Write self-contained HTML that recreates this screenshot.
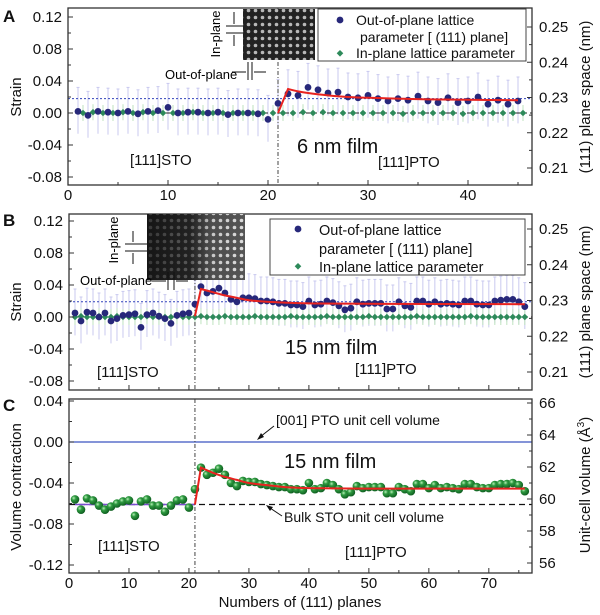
<!DOCTYPE html>
<html><head><meta charset="utf-8"><style>
html,body{margin:0;padding:0;background:#fff}
svg{display:block;font-family:"Liberation Sans",Arial,sans-serif}
</style></head><body>
<svg id="fig" width="600" height="615" viewBox="0 0 600 615" xmlns="http://www.w3.org/2000/svg">
<defs>
<pattern id="atomsA" width="7" height="7" patternUnits="userSpaceOnUse"><circle cx="3.5" cy="3.5" r="1.8" fill="#ddd"/></pattern>
<linearGradient id="fadeB" x1="0" x2="1"><stop offset="0" stop-color="#000" stop-opacity="0.75"/><stop offset="0.45" stop-color="#000" stop-opacity="0.6"/><stop offset="0.65" stop-color="#000" stop-opacity="0.1"/><stop offset="1" stop-color="#000" stop-opacity="0"/></linearGradient>
<radialGradient id="ball" cx="0.35" cy="0.35" r="0.7"><stop offset="0" stop-color="#b8f0b8"/><stop offset="0.35" stop-color="#2e9a40"/><stop offset="1" stop-color="#0d5a1e"/></radialGradient>
</defs>
<g id="layer"></g>
<!-- static annotations -->
<g font-family="Liberation Sans, Arial, sans-serif" fill="#111">
  <text x="3" y="22" font-size="17" font-weight="bold">A</text>
  <text x="3" y="226" font-size="17" font-weight="bold">B</text>
  <text x="3" y="411" font-size="17" font-weight="bold">C</text>
  <text transform="translate(21,97) rotate(-90)" font-size="15" text-anchor="middle">Strain</text>
  <text transform="translate(21,302) rotate(-90)" font-size="15" text-anchor="middle">Strain</text>
  <text transform="translate(21,487) rotate(-90)" font-size="15" text-anchor="middle">Volume contraction</text>
  <text transform="translate(590,97) rotate(-90)" font-size="15" text-anchor="middle">(111) plane space (nm)</text>
  <text transform="translate(590,302) rotate(-90)" font-size="15" text-anchor="middle">(111) plane space (nm)</text>
  <text transform="translate(590,485) rotate(-90)" font-size="15" text-anchor="middle">Unit-cell volume (Å<tspan font-size="10" dy="-6">3</tspan><tspan dy="6">)</tspan></text>
  <text x="300" y="607" font-size="15" text-anchor="middle">Numbers of (111) planes</text>
  <text x="297" y="153" font-size="20">6 nm film</text>
  <text x="130" y="165" font-size="15">[111]STO</text>
  <text x="378" y="167" font-size="15">[111]PTO</text>
  <text x="285" y="354" font-size="20">15 nm film</text>
  <text x="97" y="377" font-size="15">[111]STO</text>
  <text x="355" y="374" font-size="15">[111]PTO</text>
  <text x="276" y="425" font-size="14">[001] PTO unit cell volume</text>
  <line x1="274" y1="426" x2="260" y2="437" stroke="#111"/><path d="M257 440 L261 433 L264 437 Z" fill="#111"/>
  <text x="284" y="468" font-size="20">15 nm film</text>
  <text x="284" y="522" font-size="14">Bulk STO unit cell volume</text>
  <line x1="282" y1="516" x2="270" y2="508" stroke="#111"/><path d="M266 505 L273 507 L270 511 Z" fill="#111"/>
  <text x="98" y="551" font-size="15">[111]STO</text>
  <text x="345" y="557" font-size="15">[111]PTO</text>
</g>
<g font-family="Liberation Sans, Arial, sans-serif" fill="#111">
  <rect x="318" y="9" width="208" height="52" fill="#fff" stroke="#444"/>
  <circle cx="340" cy="20" r="3.4" fill="#27287a"/>
  <text x="356" y="25" font-size="14">Out-of-plane lattice</text>
  <text x="360" y="42" font-size="14">parameter [ (111) plane]</text>
  <path d="M340 50 L343.3 53.3 L340 56.6 L336.7 53.3 Z" fill="#2d8a5a"/>
  <text x="356" y="58" font-size="14">In-plane lattice parameter</text>
</g>
<g>
  <rect x="243" y="9" width="72" height="51" fill="#222"/>
  <rect x="243" y="9" width="72" height="51" fill="url(#atomsA)" opacity="0.8"/>
  <text x="220" y="34" font-size="13" font-family="Liberation Sans, Arial, sans-serif" text-anchor="middle" transform="rotate(-90 220 34)">In-plane</text>
  <line x1="226" y1="26" x2="243" y2="26" stroke="#111"/><line x1="226" y1="33" x2="243" y2="33" stroke="#111"/>
  <line x1="234" y1="12" x2="234" y2="24" stroke="#111"/><line x1="234" y1="35" x2="234" y2="46" stroke="#111"/>
  <text x="165" y="79" font-size="13" font-family="Liberation Sans, Arial, sans-serif">Out-of-plane</text>
  <line x1="248" y1="62" x2="248" y2="80" stroke="#111"/><line x1="252" y1="62" x2="252" y2="80" stroke="#111"/>
  <line x1="232" y1="72" x2="246" y2="72" stroke="#111"/><line x1="254" y1="72" x2="266" y2="72" stroke="#111"/>
</g>
<g font-family="Liberation Sans, Arial, sans-serif" fill="#111">
  <rect x="270" y="219" width="255" height="56" fill="#fff" stroke="#444"/>
  <circle cx="298" cy="229" r="3.4" fill="#27287a"/>
  <text x="319" y="235" font-size="14.5">Out-of-plane lattice</text>
  <text x="319" y="254" font-size="14.5">parameter [ (111) plane]</text>
  <path d="M298 263 L301.3 266.3 L298 269.6 L294.7 266.3 Z" fill="#2d8a5a"/>
  <text x="319" y="272" font-size="14.5">In-plane lattice parameter</text>
</g>
<g>
  <rect x="147" y="214" width="98" height="66" fill="#555"/>
  <rect x="147" y="214" width="98" height="66" fill="url(#atomsA)"/>
  <rect x="147" y="214" width="98" height="66" fill="url(#fadeB)"/>
  <text x="118" y="240" font-size="13" font-family="Liberation Sans, Arial, sans-serif" text-anchor="middle" transform="rotate(-90 118 240)">In-plane</text>
  <line x1="125" y1="244" x2="147" y2="244" stroke="#111"/><line x1="125" y1="251" x2="147" y2="251" stroke="#111"/>
  <line x1="133" y1="231" x2="133" y2="242" stroke="#111"/><line x1="133" y1="253" x2="133" y2="264" stroke="#111"/>
  <text x="80" y="285" font-size="13" font-family="Liberation Sans, Arial, sans-serif">Out-of-plane</text>
  <line x1="168" y1="272" x2="168" y2="290" stroke="#111"/><line x1="174" y1="272" x2="174" y2="290" stroke="#111"/>
  <line x1="152" y1="281" x2="166" y2="281" stroke="#111"/><line x1="176" y1="281" x2="188" y2="281" stroke="#111"/>
</g>
</svg>
<script>
// ---------- Panel A data ----------
const aBlueX=[1,2,3,4,5,6,7,8,9,10,11,12,13,14,15,16,17,18,19,20,21,22,23,24,25,26,27,28,29,30,31,32,33,34,35,36,37,38,39,40,41,42,43,44,45];
const aBlueY=[0.002,-0.003,0.002,0.001,0.000,0.002,-0.001,0.002,0.003,0.007,0.000,0.001,0.001,0.000,0.001,-0.002,0.000,0.000,-0.001,-0.008,0.012,0.024,0.022,0.032,0.029,0.025,0.026,0.020,0.019,0.022,0.018,0.015,0.018,0.016,0.021,0.015,0.013,0.019,0.013,0.015,0.020,0.011,0.016,0.011,0.015];
const aGreenX=[1.5,2.5,3.5,4.5,5.5,6.5,7.5,8.5,9.5,10.5,11.5,12.5,13.5,14.5,15.5,16.5,17.5,18.5,19.5,20.5,21.5,22.5,23.5,24.5,25.5,26.5,27.5,28.5,29.5,30.5,31.5,32.5,33.5,34.5,35.5,36.5,37.5,38.5,39.5,40.5,41.5,42.5,43.5,44.5,45.5];
const aGreenY=[0.000,0.001,0.000,0.000,0.001,0.000,0.001,0.000,0.000,0.000,0.000,0.001,0.000,0.000,0.000,0.000,0.000,0.000,0.000,0.000,0.000,0.000,0.001,0.000,0.001,0.000,0.000,0.000,0.000,0.000,0.000,0.000,-0.001,0.000,0.000,0.000,0.000,0.000,-0.001,0.000,0.000,0.000,0.000,0.000,0.000];
const aFitX=[21,22,23,24,26,28,30,33,36,40,45];
const aFitY=[0.000,0.030,0.027,0.025,0.022,0.020,0.019,0.018,0.017,0.0165,0.016];
const aXTicks=[0,10,20,30,40];
const aYTicks=[0.12,0.08,0.04,0.00,-0.04,-0.08];
const aYTickLabels=["0.12","0.08","0.04","0.00","-0.04","-0.08"];
const aRTicks=[0.25,0.24,0.23,0.22,0.21];
// ---------- Panel B data ----------
const bBlueX=[1,2,3,4,5,6,7,8,9,10,11,12,13,14,15,16,17,18,19,20,21,22,23,24,25,26,27,28,29,30,31,32,33,34,35,36,37,38,39,40,41,42,43,44,45,46,47,48,49,50,51,52,53,54,55,56,57,58,59,60,61,62,63,64,65,66,67,68,69,70,71,72,73,74,75,76];
const bBlueY=[0.005,-0.005,0.006,0.005,0.000,0.005,-0.005,-0.002,0.002,0.003,0.004,-0.013,0.003,0.005,0.001,-0.002,-0.008,0.002,0.004,0.005,0.016,0.038,0.030,0.032,0.036,0.030,0.022,0.019,0.024,0.024,0.023,0.020,0.020,0.019,0.017,0.017,0.015,0.015,0.013,0.020,0.015,0.016,0.020,0.018,0.014,0.009,0.011,0.019,0.016,0.017,0.017,0.017,0.010,0.010,0.019,0.014,0.012,0.020,0.020,0.016,0.019,0.016,0.017,0.016,0.015,0.020,0.020,0.016,0.015,0.015,0.020,0.021,0.022,0.022,0.019,0.013];
const bGreenY=[0.000,0.001,0.000,0.000,0.001,0.000,0.000,0.001,0.000,0.000,0.000,0.000,0.001,0.000,0.000,0.000,0.000,0.001,0.000,0.000,0.000,0.001,0.000,0.000,0.000,0.001,0.000,0.000,0.000,0.000,0.001,0.000,0.000,0.000,0.000,0.000,0.001,0.000,0.000,0.000,0.000,0.000,0.001,0.000,0.000,0.000,0.000,0.000,0.000,0.001,0.000,0.000,0.000,0.000,0.000,0.000,0.000,0.001,0.000,0.000,0.000,0.000,0.000,0.000,0.000,0.000,0.001,0.000,0.000,0.000,0.000,0.000,0.000,0.000,0.000,0.000];
const bFitX=[21,22,24,26,28,30,33,36,40,50,76];
const bFitY=[0.001,0.035,0.031,0.027,0.024,0.021,0.019,0.018,0.017,0.0165,0.016];
// ---------- Panel C data ----------
const cX=[1,2,3,4,5,6,7,8,9,10,11,12,13,14,15,16,17,18,19,20,21,22,23,24,25,26,27,28,29,30,31,32,33,34,35,36,37,38,39,40,41,42,43,44,45,46,47,48,49,50,51,52,53,54,55,56,57,58,59,60,61,62,63,64,65,66,67,68,69,70,71,72,73,74,75,76];
const cY=[-0.056,-0.066,-0.055,-0.057,-0.062,-0.066,-0.063,-0.060,-0.058,-0.057,-0.072,-0.058,-0.056,-0.062,-0.062,-0.068,-0.062,-0.057,-0.056,-0.064,-0.046,-0.025,-0.032,-0.030,-0.026,-0.032,-0.040,-0.043,-0.038,-0.039,-0.039,-0.041,-0.042,-0.043,-0.044,-0.044,-0.046,-0.046,-0.047,-0.040,-0.046,-0.045,-0.040,-0.042,-0.046,-0.051,-0.049,-0.043,-0.045,-0.044,-0.044,-0.044,-0.050,-0.050,-0.044,-0.046,-0.048,-0.041,-0.041,-0.045,-0.042,-0.045,-0.044,-0.045,-0.046,-0.041,-0.041,-0.044,-0.045,-0.045,-0.042,-0.041,-0.041,-0.040,-0.042,-0.048];
const cFitX=[21,22,24,26,28,30,33,36,40,50,60,76];
const cFitY=[-0.061,-0.025,-0.030,-0.034,-0.037,-0.040,-0.042,-0.044,-0.045,-0.0455,-0.0455,-0.0455];
const cXTicks=[0,10,20,30,40,50,60,70];
const cYTicks=[0.04,0.00,-0.04,-0.08,-0.12];
const cYTickLabels=["0.04","0.00","-0.04","-0.08","-0.12"];
const cRTicks=[66,64,62,60,58,56];
const bulkSTO=-0.061;

const NS="http://www.w3.org/2000/svg";
const L=document.getElementById('layer');
function mk(tag,attrs,parent,text){const e=document.createElementNS(NS,tag);for(const k in attrs)e.setAttribute(k,attrs[k]);if(text!==undefined)e.textContent=text;(parent||L).appendChild(e);return e;}
function lin(d0,d1,r0,r1){return v=>r0+(v-d0)*(r1-r0)/(d1-d0);}
function smoothPath(xs,ys,sx,sy){
  let d='M'+sx(xs[0])+' '+sy(ys[0])+' L'+sx(xs[1])+' '+sy(ys[1]);
  for(let i=1;i<xs.length-1;i++){
    const x0=sx(xs[i]),y0=sy(ys[i]),x1=sx(xs[i+1]),y1=sy(ys[i+1]);
    const xp=sx(xs[Math.max(i-1,1)]),yp=sy(ys[Math.max(i-1,1)]);
    const xn=sx(xs[Math.min(i+2,xs.length-1)]),yn=sy(ys[Math.min(i+2,xs.length-1)]);
    const c1x=x0+(x1-xp)/6,c1y=y0+(y1-yp)/6,c2x=x1-(xn-x0)/6,c2y=y1-(yn-y0)/6;
    d+=` C${c1x.toFixed(1)} ${c1y.toFixed(1)} ${c2x.toFixed(1)} ${c2y.toFixed(1)} ${x1.toFixed(1)} ${y1.toFixed(1)}`;
  }
  return d;
}
function frame(g,x0,x1,y0,y1,name){const r=mk('rect',{x:x0,y:y0,width:x1-x0,height:y1-y0,fill:'none',stroke:'#333','stroke-width':1.3},g);}
function text(g,x,y,s,size,anchor,name,extra){const t=mk('text',Object.assign({x:x,y:y,'font-size':size,'text-anchor':anchor||'start',fill:'#111'},extra||{}),g,s);return t;}

function axes(g,P,opt){
  for(let v=0;v<=P.xmax;v+=5){const x=P.sx(v);const major=v%10===0;mk('line',{x1:x,x2:x,y1:P.y1,y2:P.y1-(major?5:3),stroke:'#333'},g);}
  if(opt.xt) opt.xt.forEach(v=>{text(g,P.sx(v),P.y1+15,String(v),15,'middle','x-tick-label');});
  opt.yt.forEach((v,i)=>{const y=P.sy(v);mk('line',{x1:P.x0,x2:P.x0+5,y1:y,y2:y,stroke:'#333'},g);text(g,P.x0-6,y+5,opt.ytl[i],15,'end','y-tick-label');});
  opt.yminor.forEach(v=>{const y=P.sy(v);mk('line',{x1:P.x0,x2:P.x0+3,y1:y,y2:y,stroke:'#333'},g);});
  opt.rt.forEach(v=>{const y=opt.sr(v);mk('line',{x1:P.x1,x2:P.x1-5,y1:y,y2:y,stroke:'#333'},g);text(g,P.x1+7,y+5,opt.rtl(v),15,'start','right-tick-label');});
  opt.rminor.forEach(v=>{const y=opt.sr(v);mk('line',{x1:P.x1,x2:P.x1-3,y1:y,y2:y,stroke:'#333'},g);});
}

function strainPanel(id,P,bx,by,gx,gy,fx,fy,blueLevel,opt){
  const g=mk('g',{});
  
  
  const eb=mk('g',{},g);
  
  
  bx.forEach((x,i)=>{const X=P.sx(x);mk('line',{x1:X,x2:X,y1:P.sy(by[i]+0.03),y2:P.sy(by[i]-0.028),stroke:'#c9c9ef','stroke-width':1},eb);mk('line',{x1:X-1.5,x2:X+1.5,y1:P.sy(by[i]+0.03),y2:P.sy(by[i]+0.03),stroke:'#c9c9ef'},eb);});
  gx.forEach((x,i)=>{const X=P.sx(x);mk('line',{x1:X,x2:X,y1:P.sy(gy[i]+0.01),y2:P.sy(gy[i]-0.01),stroke:'#bfe3bf','stroke-width':1},eb);});
  const rl=mk('line',{x1:P.x0,x2:P.x1,y1:P.sy(blueLevel),y2:P.sy(blueLevel),stroke:'#3344bb','stroke-width':1,'stroke-dasharray':'2 2'},g);
  
  
  const zl=mk('line',{x1:P.x0,x2:P.x1,y1:P.sy(0),y2:P.sy(0),stroke:'#222','stroke-width':1,'stroke-dasharray':'4 3'},g);
  
  
  const dv=mk('line',{x1:P.sx(21),x2:P.sx(21),y1:P.y0,y2:P.y1,stroke:'#444','stroke-width':1,'stroke-dasharray':'4 2 1 2'},g);
  
  
  gx.forEach((x,i)=>{const X=P.sx(x),Y=P.sy(gy[i]);const d=mk('path',{d:`M${X} ${Y-3.3} L${X+3.3} ${Y} L${X} ${Y+3.3} L${X-3.3} ${Y} Z`,fill:'#2d8a5a'},g);
    
    });
  bx.forEach((x,i)=>{const c=mk('circle',{cx:P.sx(x),cy:P.sy(by[i]),r:3.4,fill:'#27287a'},g);
    
    });
  const f=mk('path',{d:smoothPath(fx,fy,P.sx,P.sy),fill:'none',stroke:'#e8231f','stroke-width':2},g);
  
  
  frame(g,P.x0,P.x1,P.y0,P.y1,'plot-frame');
  axes(g,P,opt);
  return g;
}

const PA={x0:68,x1:532,y0:8,y1:185,xmax:46.4};
PA.sx=lin(0,46.4,68,532); PA.sy=lin(0,0.12,113,17);
const srA=lin(0.25,0.21,27,168);
strainPanel('a',PA,aBlueX,aBlueY,aGreenX,aGreenY,aFitX,aFitY,0.018,{xt:aXTicks,yt:aYTicks,ytl:aYTickLabels,yminor:[0.10,0.06,0.02,-0.02,-0.06],rt:aRTicks,rtl:v=>v.toFixed(2),sr:srA,rminor:[0.245,0.235,0.225,0.215]});
const PB={x0:69,x1:532,y0:214,y1:390,xmax:77.2};
PB.sx=lin(0,77.2,69,532); PB.sy=lin(0,0.12,317,221);
const srB=lin(0.25,0.21,229,372);
strainPanel('b',PB,bBlueX,bBlueY,bBlueX,bGreenY,bFitX,bFitY,0.019,{xt:null,yt:aYTicks,ytl:aYTickLabels,yminor:[0.10,0.06,0.02,-0.02,-0.06],rt:aRTicks,rtl:v=>v.toFixed(2),sr:srB,rminor:[0.245,0.235,0.225,0.215]});

const PC={x0:69,x1:532,y0:399,y1:573,xmax:77.2};
PC.sx=lin(0,77.2,69,532); PC.sy=lin(0,-0.04,442,483);
const srC=lin(66,56,403,563);
const gC=mk('g',{});


{
  const bl=mk('line',{x1:PC.x0,x2:PC.x1,y1:PC.sy(0),y2:PC.sy(0),stroke:'#3a55c0','stroke-width':1.3},gC);
  
  
  const dl=mk('line',{x1:PC.x0,x2:PC.x1,y1:PC.sy(bulkSTO),y2:PC.sy(bulkSTO),stroke:'#111','stroke-width':1.3,'stroke-dasharray':'6 4'},gC);
  
  
  const sl=mk('line',{x1:PC.sx(1),x2:PC.sx(21),y1:PC.sy(bulkSTO),y2:PC.sy(bulkSTO),stroke:'#7a4fd0','stroke-width':1.5},gC);
  
  
  const dv=mk('line',{x1:PC.sx(21),x2:PC.sx(21),y1:PC.y0,y2:PC.y1,stroke:'#444','stroke-width':1,'stroke-dasharray':'4 2 1 2'},gC);
  
  
  cX.forEach((x,i)=>{const c=mk('circle',{cx:PC.sx(x),cy:PC.sy(cY[i]),r:4.3,fill:'url(#ball)'},gC);
    
    });
  const f=mk('path',{d:smoothPath(cFitX,cFitY,PC.sx,PC.sy),fill:'none',stroke:'#e8231f','stroke-width':2},gC);
  
  
  frame(gC,PC.x0,PC.x1,PC.y0,PC.y1,'plot-frame');
  axes(gC,PC,{xt:cXTicks,yt:cYTicks,ytl:cYTickLabels,yminor:[0.02,-0.02,-0.06,-0.10],rt:cRTicks,rtl:v=>String(v),sr:srC,rminor:[65,63,61,59,57]});
}
</script>
</body></html>
